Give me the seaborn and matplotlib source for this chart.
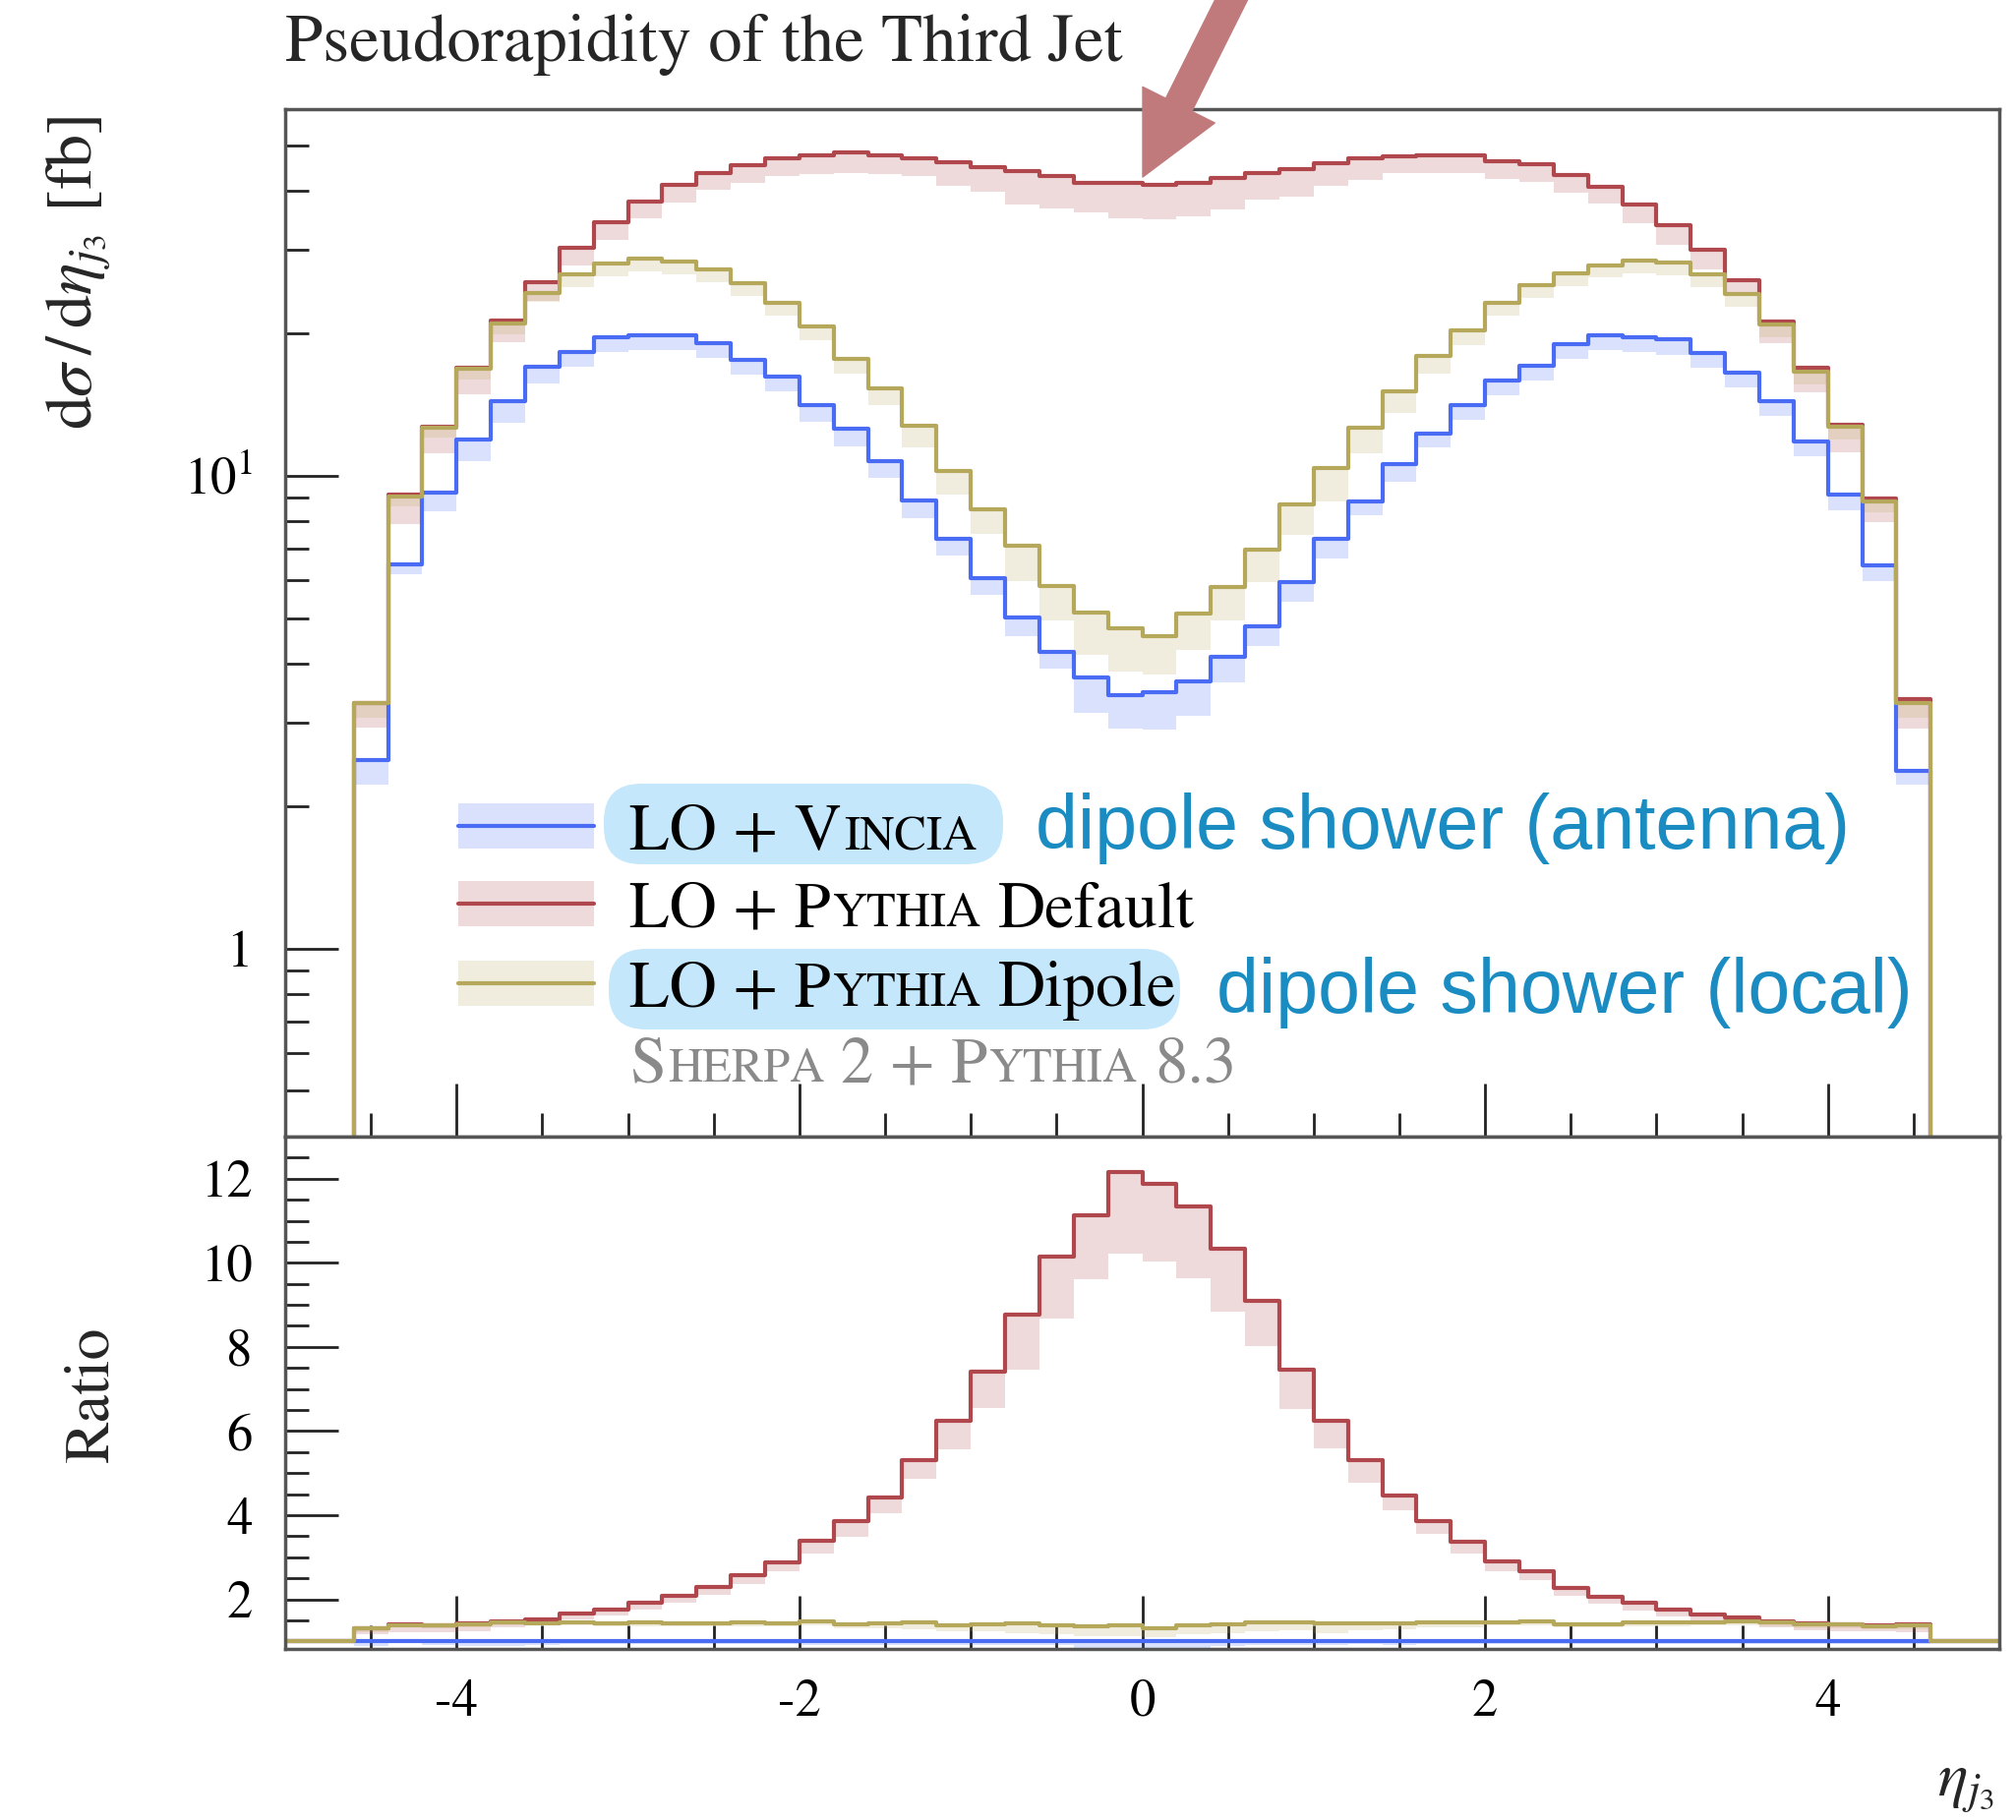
import numpy as np
import pandas as pd
import matplotlib
matplotlib.use("Agg")
import matplotlib.pyplot as plt
import seaborn as sns
from matplotlib.patches import FancyBboxPatch, Rectangle
from matplotlib.lines import Line2D
from matplotlib.transforms import IdentityTransform
from matplotlib.ticker import FixedLocator, MultipleLocator, NullFormatter, LogLocator, FuncFormatter

sns.set_style("ticks")
plt.rcParams["font.family"] = ["STIXGeneral", "DejaVu Serif"]
plt.rcParams["mathtext.fontset"] = "stix"
plt.rcParams["axes.unicode_minus"] = False

# ---------------- data ----------------
eta_edges = np.round(np.linspace(-4.6, 4.6, 47), 2)   # 46 bins of width 0.2

vincia = [2.50, 6.50, 9.20, 11.9, 14.4, 17.0, 18.3, 19.6, 19.8, 19.8,
          19.05, 17.6, 16.2, 14.1, 12.55, 10.75, 8.85, 7.36, 6.08, 5.02,
          4.24, 3.75, 3.43, 3.48, 3.68, 4.13, 4.79, 5.95, 7.34, 8.81,
          10.6, 12.3, 14.1, 15.9, 17.1, 19.0, 19.8, 19.6, 19.4, 18.2,
          16.5, 14.4, 11.8, 9.10, 6.45, 2.38]

pythia_default = [3.30, 9.10, 12.7, 16.9, 21.3, 25.7, 30.3, 34.3, 38.0, 41.2,
                  43.7, 45.3, 46.8, 47.7, 48.3, 47.5, 47.0, 46.0, 45.0, 44.0,
                  43.0, 41.7, 41.7, 41.3, 41.7, 42.7, 43.6, 44.4, 45.9, 46.8,
                  47.4, 47.5, 47.5, 46.2, 45.5, 43.2, 40.9, 37.5, 33.9, 30.0,
                  25.9, 21.2, 16.9, 12.8, 8.95, 3.37]

pythia_dipole = [3.30, 9.05, 12.65, 16.8, 21.0, 24.4, 26.7, 28.1, 28.8, 28.4,
                 27.3, 25.5, 23.2, 20.7, 17.7, 15.3, 12.75, 10.25, 8.47, 7.12,
                 5.85, 5.13, 4.76, 4.58, 5.10, 5.82, 6.97, 8.70, 10.4, 12.65,
                 15.1, 17.9, 20.3, 23.2, 25.3, 26.8, 27.9, 28.5, 28.2, 26.6,
                 24.2, 20.9, 16.6, 12.7, 8.82, 3.30]

# lower edge of the uncertainty band, as a fraction of the central value
vincia_band_frac = [0.89, 0.95, 0.915, 0.90, 0.90, 0.92, 0.93, 0.93, 0.93, 0.93,
                    0.93, 0.93, 0.93, 0.92, 0.92, 0.92, 0.92, 0.92, 0.92, 0.91,
                    0.92, 0.84, 0.85, 0.835, 0.845, 0.885, 0.91, 0.91, 0.91, 0.935,
                    0.915, 0.935, 0.93, 0.93, 0.93, 0.93, 0.93, 0.93, 0.93, 0.93,
                    0.93, 0.93, 0.93, 0.93, 0.93, 0.935]
default_band_frac = [0.89, 0.87, 0.88, 0.88, 0.90, 0.91, 0.92, 0.92, 0.92, 0.92,
                     0.92, 0.92, 0.92, 0.91, 0.905, 0.915, 0.915, 0.89, 0.885, 0.85,
                     0.855, 0.865, 0.84, 0.845, 0.85, 0.855, 0.88, 0.875, 0.895, 0.90,
                     0.92, 0.92, 0.92, 0.92, 0.92, 0.92, 0.92, 0.91, 0.91, 0.91,
                     0.93, 0.90, 0.89, 0.875, 0.89, 0.865]
dipole_band_frac = [0.93, 0.95, 0.95, 0.95, 0.95, 0.955, 0.94, 0.94, 0.94, 0.94,
                    0.94, 0.94, 0.94, 0.935, 0.93, 0.92, 0.90, 0.89, 0.89, 0.84,
                    0.845, 0.815, 0.81, 0.83, 0.84, 0.85, 0.855, 0.86, 0.85, 0.88,
                    0.90, 0.92, 0.93, 0.94, 0.94, 0.94, 0.94, 0.94, 0.94, 0.94,
                    0.94, 0.94, 0.94, 0.94, 0.95, 0.93]

x_ticks = [-4, -2, 0, 2, 4]
x_tick_labels = ["-4", "-2", "0", "2", "4"]
ratio_ticks = [2, 4, 6, 8, 10, 12]

title = "Pseudorapidity of the Third Jet"

# ---------------- style ----------------
C_VIN = "#4A6CF5"
C_DEF = "#B0474D"
C_DIP = "#B5A85A"
BAND_ALPHA = 0.2
LW = 3.0

W, H, DPI = 2050, 1851, 100
fig = plt.figure(figsize=(W / DPI, H / DPI), dpi=DPI)
fig.patch.set_facecolor("white")


def axes_rect(left, top, right, bottom):
    return [left / W, 1 - bottom / H, (right - left) / W, (bottom - top) / H]


ax = fig.add_axes(axes_rect(290, 111, 2033, 1156))
axr = fig.add_axes(axes_rect(290, 1156, 2033, 1677), sharex=ax)

# full range of bins (outer bins beyond |eta|=4.6 are empty)
full_edges = np.round(np.arange(-5.0, 5.0001, 0.2), 2)
full_centers = full_edges[:-1] + 0.1
N_PAD = 2


def padded(vals, pad):
    return np.r_[[pad] * N_PAD, np.asarray(vals, float), [pad] * N_PAD]


def draw_hist(axis, vals, color, pad):
    df = pd.DataFrame({"eta": full_centers, "w": padded(vals, pad)})
    sns.histplot(data=df, x="eta", weights="w", bins=[float(e) for e in full_edges],
                 element="step", fill=False, color=color, linewidth=LW, ax=axis)


def draw_band(axis, lo, hi, color):
    lo = np.asarray(lo, float)
    hi = np.asarray(hi, float)
    axis.fill_between(eta_edges, np.r_[lo, lo[-1]], np.r_[hi, hi[-1]], step="post",
                      color=color, alpha=BAND_ALPHA, linewidth=0, zorder=1)


vin = np.asarray(vincia)
dft = np.asarray(pythia_default)
dip = np.asarray(pythia_dipole)
vin_lo = vin * np.asarray(vincia_band_frac)
dft_lo = dft * np.asarray(default_band_frac)
dip_lo = dip * np.asarray(dipole_band_frac)

# ---- main panel ----
draw_band(ax, vin_lo, vin, C_VIN)
draw_band(ax, dft_lo, dft, C_DEF)
draw_band(ax, dip_lo, dip, C_DIP)
draw_hist(ax, vin, C_VIN, 0.0)
draw_hist(ax, dft, C_DEF, 0.0)
draw_hist(ax, dip, C_DIP, 0.0)

# ---- ratio panel (reference: Vincia) ----
draw_band(axr, vin_lo / vin, vin / vin, C_VIN)
draw_band(axr, dft_lo / vin, dft / vin, C_DEF)
draw_band(axr, dip_lo / vin, dip / vin, C_DIP)
draw_hist(axr, vin / vin, C_VIN, 1.0)
draw_hist(axr, dft / vin, C_DEF, 1.0)
draw_hist(axr, dip / vin, C_DIP, 1.0)

ax.set_yscale("log")
ax.set_ylim(0.4, 59.6)
ax.set_xlim(-5, 5)
axr.set_ylim(0.82, 13.0)

for a in (ax, axr):
    a.set_xlabel("")
    a.set_ylabel("")
    a.tick_params(which="both", direction="in", top=False, right=False,
                  color="#222222", width=2.0, labelsize=38, labelcolor="black")
    a.tick_params(which="major", length=39)
    a.tick_params(which="minor", length=17)
    a.tick_params(axis="y", pad=24)
    a.tick_params(axis="x", pad=22)
    for sp in a.spines.values():
        sp.set_visible(True)
        sp.set_linewidth(2.5)
        sp.set_color("#555555")

ax.yaxis.set_major_locator(FixedLocator([1, 10]))
ax.yaxis.set_major_formatter(FuncFormatter(lambda v, p: "1" if abs(v - 1) < 1e-9 else r"$10^{1}$"))
ax.yaxis.set_minor_locator(LogLocator(base=10, subs=np.arange(2, 10), numticks=30))
ax.yaxis.set_minor_formatter(NullFormatter())
ax.tick_params(axis="x", labelbottom=False)

axr.set_xticks(x_ticks, labels=x_tick_labels)
axr.xaxis.set_minor_locator(MultipleLocator(0.5))
axr.yaxis.set_major_locator(FixedLocator(ratio_ticks))
axr.yaxis.set_major_formatter(FuncFormatter(lambda v, p: f"{int(round(v))}"))
axr.yaxis.set_minor_locator(MultipleLocator(0.5))

ax.set_title(title, loc="left", pad=35, fontsize=49.5)

# axis labels
fig.text(80 / W, 1 - 118 / H, r"$\mathrm{d}\sigma\,/\,\mathrm{d}\eta_{j_3}$ [fb]",
         rotation=90, ha="center", va="top", fontsize=49)
fig.text(94 / W, 1 - 1418 / H, "Ratio", rotation=90, ha="center", va="center", fontsize=46)
fig.text(2028 / W, 1 - 1827 / H, r"$\eta_{j_3}$", ha="right", va="baseline", fontsize=46)

# ---------------- legend (manual, with small caps) ----------------
renderer = fig.canvas.get_renderer()
tr = IdentityTransform()
BIG, SMALL = 48, 35


def smallcaps(x, base, parts, color):
    """parts: list of (text, small?, gap_em). Returns (x0, x1) in pixels."""
    xc = x
    x0 = None
    for s, small, gap in parts:
        fs = SMALL if small else BIG
        xc += gap * BIG * DPI / 72.0
        t = fig.text(xc, H - base, s, transform=tr, fontsize=fs, color=color,
                     ha="left", va="baseline", zorder=6)
        bb = t.get_window_extent(renderer)
        if x0 is None:
            x0 = bb.x0
        xc = bb.x1
    return x0, xc


row_base = [863, 942, 1023]
for base, col in zip(row_base, [C_VIN, C_DEF, C_DIP]):
    cy = H - (base - 23)
    fig.add_artist(Rectangle((466, cy - 23), 138, 46, transform=tr, facecolor=col,
                             alpha=BAND_ALPHA, edgecolor="none", zorder=4))
    fig.add_artist(Line2D([466, 604], [cy, cy], transform=tr, color=col, linewidth=LW, zorder=5))

x0a, x1a = smallcaps(640, row_base[0], [("LO + V", False, 0), ("INCIA", True, 0.03)], "black")
smallcaps(640, row_base[1], [("LO + P", False, 0), ("YTHIA", True, 0.03), ("Default", False, 0.25)], "black")
x0c, x1c = smallcaps(640, row_base[2], [("LO + P", False, 0), ("YTHIA", True, 0.03), ("Dipole", False, 0.25)], "black")
smallcaps(640, 1100, [("S", False, 0), ("HERPA", True, 0.03), ("2 + P", False, 0.25),
                      ("YTHIA", True, 0.03), ("8.3", False, 0.25)], "#8a8a8a")

HL = "#C5E7FB"
fig.add_artist(FancyBboxPatch((x0a - 26, H - 879), (x1a + 27) - (x0a - 26), 82,
                              boxstyle="round,pad=0,rounding_size=38", transform=tr,
                              facecolor=HL, edgecolor="none", zorder=3))
fig.add_artist(FancyBboxPatch((x0c - 21, H - 1047), (x1c + 4) - (x0c - 21), 82,
                              boxstyle="round,pad=0,rounding_size=38", transform=tr,
                              facecolor=HL, edgecolor="none", zorder=3))

C_NOTE = "#1A8CC1"
fig.text(1053, H - 863, "dipole shower (antenna)", transform=tr, fontsize=55.5, color=C_NOTE,
         family=["Liberation Sans", "DejaVu Sans"], ha="left", va="baseline", zorder=6)
fig.text(1237, H - 1030, "dipole shower (local)", transform=tr, fontsize=55.5, color=C_NOTE,
         family=["Liberation Sans", "DejaVu Sans"], ha="left", va="baseline", zorder=6)

# arrow pointing at the central dip
ax.annotate("", xy=(1162, H - 180), xycoords="figure pixels",
            xytext=(1262, H + 20), textcoords="figure pixels",
            arrowprops=dict(arrowstyle="simple,head_length=1.0,head_width=1.0,tail_width=0.36",
                            mutation_scale=59, color="#C07A7C", shrinkA=0, shrinkB=0),
            annotation_clip=False)

fig.savefig("out.png", dpi=DPI, facecolor="white")
